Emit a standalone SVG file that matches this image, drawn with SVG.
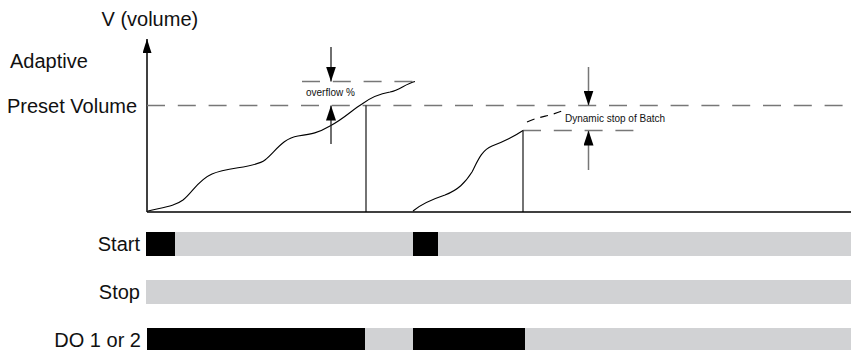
<svg xmlns="http://www.w3.org/2000/svg" width="851" height="350" viewBox="0 0 851 350">
<style>
text{font-family:"Liberation Sans",Arial,sans-serif;fill:#111}
.lbl{font-size:20px}
.sm{font-size:10px}
.ax{stroke:#000;stroke-width:1.5;fill:none}
.crv{stroke:#000;stroke-width:1.1;fill:none}
.dash{stroke:#777;stroke-width:1.5;stroke-dasharray:18 12.8;fill:none}
.blk{fill:#000}
.gry{fill:#d1d2d4}
</style>
<defs>
<marker id="ah" viewBox="0 0 15 10" refX="15" refY="5" markerWidth="15" markerHeight="10" markerUnits="userSpaceOnUse" orient="auto"><path d="M0,0 L15,5 L0,10 z" fill="#000"/></marker>
<marker id="axh" viewBox="0 0 14 9" refX="14" refY="4.5" markerWidth="14" markerHeight="9" markerUnits="userSpaceOnUse" orient="auto"><path d="M0,0 L14,4.5 L0,9 z" fill="#000"/></marker>
</defs>
<g id="axes">
<line class="ax" x1="147" y1="212" x2="147" y2="39" marker-end="url(#axh)"/>
<line class="ax" x1="147" y1="212" x2="851" y2="212"/>
<text class="lbl" x="101.5" y="26">V (volume)</text>
</g>
<g id="levels">
<text class="lbl" x="10" y="68">Adaptive</text>
<text class="lbl" x="7" y="113">Preset Volume</text>
<line class="dash" x1="147" y1="105.5" x2="851" y2="105.5"/>
<line class="dash" x1="302" y1="81.5" x2="415" y2="81.5"/>
<line class="dash" x1="523" y1="130.5" x2="637" y2="130.5"/>
</g>
<g id="batch1">
<path class="crv" d="M148,211 C165,207 175,206 183,200 C193,192 198,180 212,174 C228,167 255,168 265,160 C275,152 283,138 298,136 C312,134 318,133 330,126 C345,118 352,110 362,104 C370,98 378,94 390,92 C400,90 405,84 415,81.5"/>
<line class="crv" x1="366" y1="105.5" x2="366" y2="212"/>
<text class="sm" x="306" y="95.5">overflow %</text>
</g>
<g id="batch2">
<path class="crv" d="M413,211 C420,205 430,200 445,195 C458,190 465,183 472,172 C478,160 482,150 492,146 C505,141 512,138 523,130.5"/>
<line class="crv" x1="523" y1="130.5" x2="523" y2="212"/>
<path d="M527,122 C540,116 552,116 565,109.5" stroke="#000" stroke-width="1.1" fill="none" stroke-dasharray="8 6"/>
<text class="sm" x="565" y="122">Dynamic stop of Batch</text>
</g>
<g id="connectors">
<line x1="331" y1="47" x2="331" y2="81.5" stroke="#222" stroke-width="1.3" marker-end="url(#ah)"/>
<line x1="331" y1="144" x2="331" y2="105.5" stroke="#222" stroke-width="1.3" marker-end="url(#ah)"/>
<line x1="588.5" y1="67" x2="588.5" y2="105.5" stroke="#777" stroke-width="1.5" marker-end="url(#ah)"/>
<line x1="588.5" y1="170" x2="588.5" y2="130.5" stroke="#777" stroke-width="1.5" marker-end="url(#ah)"/>
</g>
<g id="start">
<text class="lbl" x="140" y="251" text-anchor="end">Start</text>
<rect class="gry" x="175" y="232" width="676" height="24"/>
<rect class="blk" x="146" y="232" width="29" height="24"/>
<rect class="blk" x="413" y="232" width="25" height="24"/>
</g>
<g id="stop">
<text class="lbl" x="140" y="299" text-anchor="end">Stop</text>
<rect class="gry" x="146" y="280" width="705" height="24"/>
</g>
<g id="do">
<text class="lbl" x="141" y="347" text-anchor="end">DO 1 or 2</text>
<rect class="gry" x="147" y="328" width="704" height="24"/>
<rect class="blk" x="147" y="328" width="218" height="24"/>
<rect class="blk" x="413" y="328" width="112" height="24"/>
</g>
</svg>
